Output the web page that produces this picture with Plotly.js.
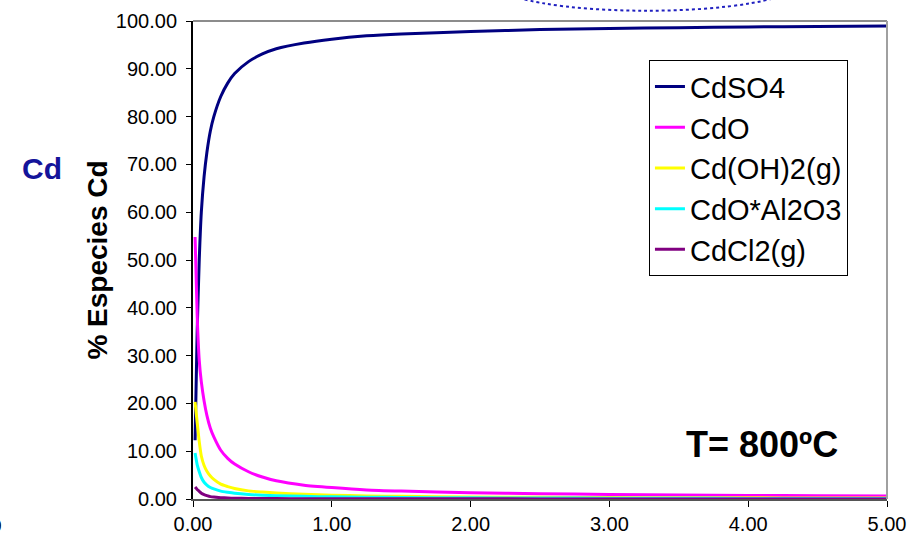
<!DOCTYPE html>
<html>
<head>
<meta charset="utf-8">
<script src="https://cdn.plot.ly/plotly-3.0.1.min.js"></script>
<style>html,body{margin:0;padding:0;background:#fff;}#chart{width:922px;height:541px;}</style>
</head>
<body>
<div id="chart"></div>
<script>
// Relative reaction coordinate (x axis)
const xVals = [0.015, 0.03, 0.045, 0.06, 0.08, 0.1, 0.125, 0.15, 0.2, 0.25, 0.3, 0.4, 0.5, 0.6, 0.8, 1.0, 1.25, 1.5, 2.0, 2.5, 3.0, 3.5, 4.0, 4.5, 5.0];
const seriesNames = ["CdSO4", "CdO", "Cd(OH)2(g)", "CdO*Al2O3", "CdCl2(g)"];
const cdso4 = [12.3, 35, 50, 60, 67.5, 72.5, 77, 80, 84.2, 87, 89, 91.5, 93.1, 94.2, 95.4, 96.2, 96.9, 97.3, 97.8, 98.2, 98.45, 98.6, 98.75, 98.85, 98.95];
const cdo = [54.8, 38.5, 29, 24.5, 20.5, 17.5, 14.8, 13, 10.2, 8.5, 7.3, 5.7, 4.6, 3.8, 2.9, 2.4, 1.9, 1.65, 1.3, 1.1, 0.95, 0.85, 0.75, 0.68, 0.62];
const cdoh2 = [20.3, 16, 12, 9, 7, 5.8, 4.8, 4.1, 3.1, 2.6, 2.2, 1.7, 1.45, 1.25, 1.0, 0.8, 0.65, 0.55, 0.42, 0.35, 0.3, 0.27, 0.24, 0.22, 0.2];
const cdoal2o3 = [9.6, 7.2, 5.7, 4.5, 3.5, 2.9, 2.4, 2.1, 1.65, 1.4, 1.2, 0.95, 0.8, 0.7, 0.55, 0.45, 0.38, 0.32, 0.25, 0.2, 0.17, 0.15, 0.13, 0.12, 0.11];
const cdcl2 = [2.5, 2.0, 1.6, 1.2, 0.9, 0.7, 0.5, 0.4, 0.28, 0.2, 0.16, 0.12, 0.1, 0.08, 0.06, 0.05, 0.04, 0.035, 0.03, 0.025, 0.02, 0.02, 0.02, 0.02, 0.02];
const seriesValues = [cdso4, cdo, cdoh2, cdoal2o3, cdcl2];
const seriesColors = ["#000080", "#ff00ff", "#ffff00", "#00ffff", "#800080"];

const FONT = "Liberation Sans, Arial, sans-serif";

const traces = seriesNames.map((name, i) => ({
  type: "scatter",
  mode: "lines",
  name: name,
  x: xVals,
  y: seriesValues[i],
  line: {color: seriesColors[i], width: 3, shape: "spline", smoothing: 0.6}
}));

const layout = {
  width: 922,
  height: 541,
  margin: {l: 193, r: 35, t: 21, b: 42},
  paper_bgcolor: "#ffffff",
  plot_bgcolor: "#ffffff",
  font: {family: FONT, color: "#000000"},
  showlegend: true,
  legend: {
    x: 0.657, y: 0.918, xanchor: "left", yanchor: "top",
    bgcolor: "#ffffff", bordercolor: "#000000", borderwidth: 1,
    font: {family: FONT, size: 29, color: "#000000"},
    tracegroupgap: 0
  },
  xaxis: {
    range: [0, 5], dtick: 1, tick0: 0, tickformat: ".2f",
    showgrid: false, zeroline: false,
    showline: true, linecolor: "#555555", linewidth: 2,
    ticks: "outside", ticklen: 6, tickcolor: "#000000",
    tickfont: {family: FONT, size: 20, color: "#000000"}
  },
  yaxis: {
    range: [0, 100], dtick: 10, tick0: 0, tickformat: ".2f",
    showgrid: false, zeroline: false,
    showline: true, linecolor: "#000000", linewidth: 2,
    ticks: "outside", ticklen: 5, tickcolor: "#000000",
    ticklabelstandoff: 5,
    tickfont: {family: FONT, size: 20, color: "#000000"},
    title: {text: "<b>% Especies Cd</b>", font: {family: FONT, size: 28, color: "#000000"}, standoff: 0}
  },
  shapes: [
    {type: "line", xref: "paper", yref: "paper", x0: 0, x1: 1, y0: 1, y1: 1, line: {color: "#8c8c8c", width: 2}},
    {type: "line", xref: "paper", yref: "paper", x0: 1, x1: 1, y0: 0, y1: 1, line: {color: "#a0a0a0", width: 2}},
    {type: "circle", xref: "paper", yref: "paper", x0: 0.6974, x1: 0.899, y0: 0.816, y1: 0.8975, line: {color: "#ff0000", width: 1.5, dash: "dot"}},
    {type: "circle", xref: "paper", yref: "paper", x0: 0.438, x1: 0.870, y0: 1.0215, y1: 1.1334, line: {color: "#2020c0", width: 2, dash: "dot"}}
  ],
  annotations: [
    {xref: "paper", yref: "paper", x: (42 - 193) / 694, y: (499 - 168) / 478, text: "<b>Cd</b>", showarrow: false,
     font: {family: FONT, size: 30, color: "#14149a"}, xanchor: "center", yanchor: "middle"},
    {xref: "paper", yref: "paper", x: (762 - 193) / 694, y: (499 - 444) / 478, text: "<b>T= 800ºC</b>", showarrow: false,
     font: {family: FONT, size: 36, color: "#000000"}, xanchor: "center", yanchor: "middle"},
    {xref: "paper", yref: "paper", x: (-4 - 193) / 694, y: (499 - 525) / 478, text: "0", showarrow: false,
     font: {family: FONT, size: 19, color: "#000000"}, xanchor: "center", yanchor: "middle"}
  ]
};

Plotly.newPlot("chart", traces, layout, {displayModeBar: false, staticPlot: true});
</script>
</body>
</html>
